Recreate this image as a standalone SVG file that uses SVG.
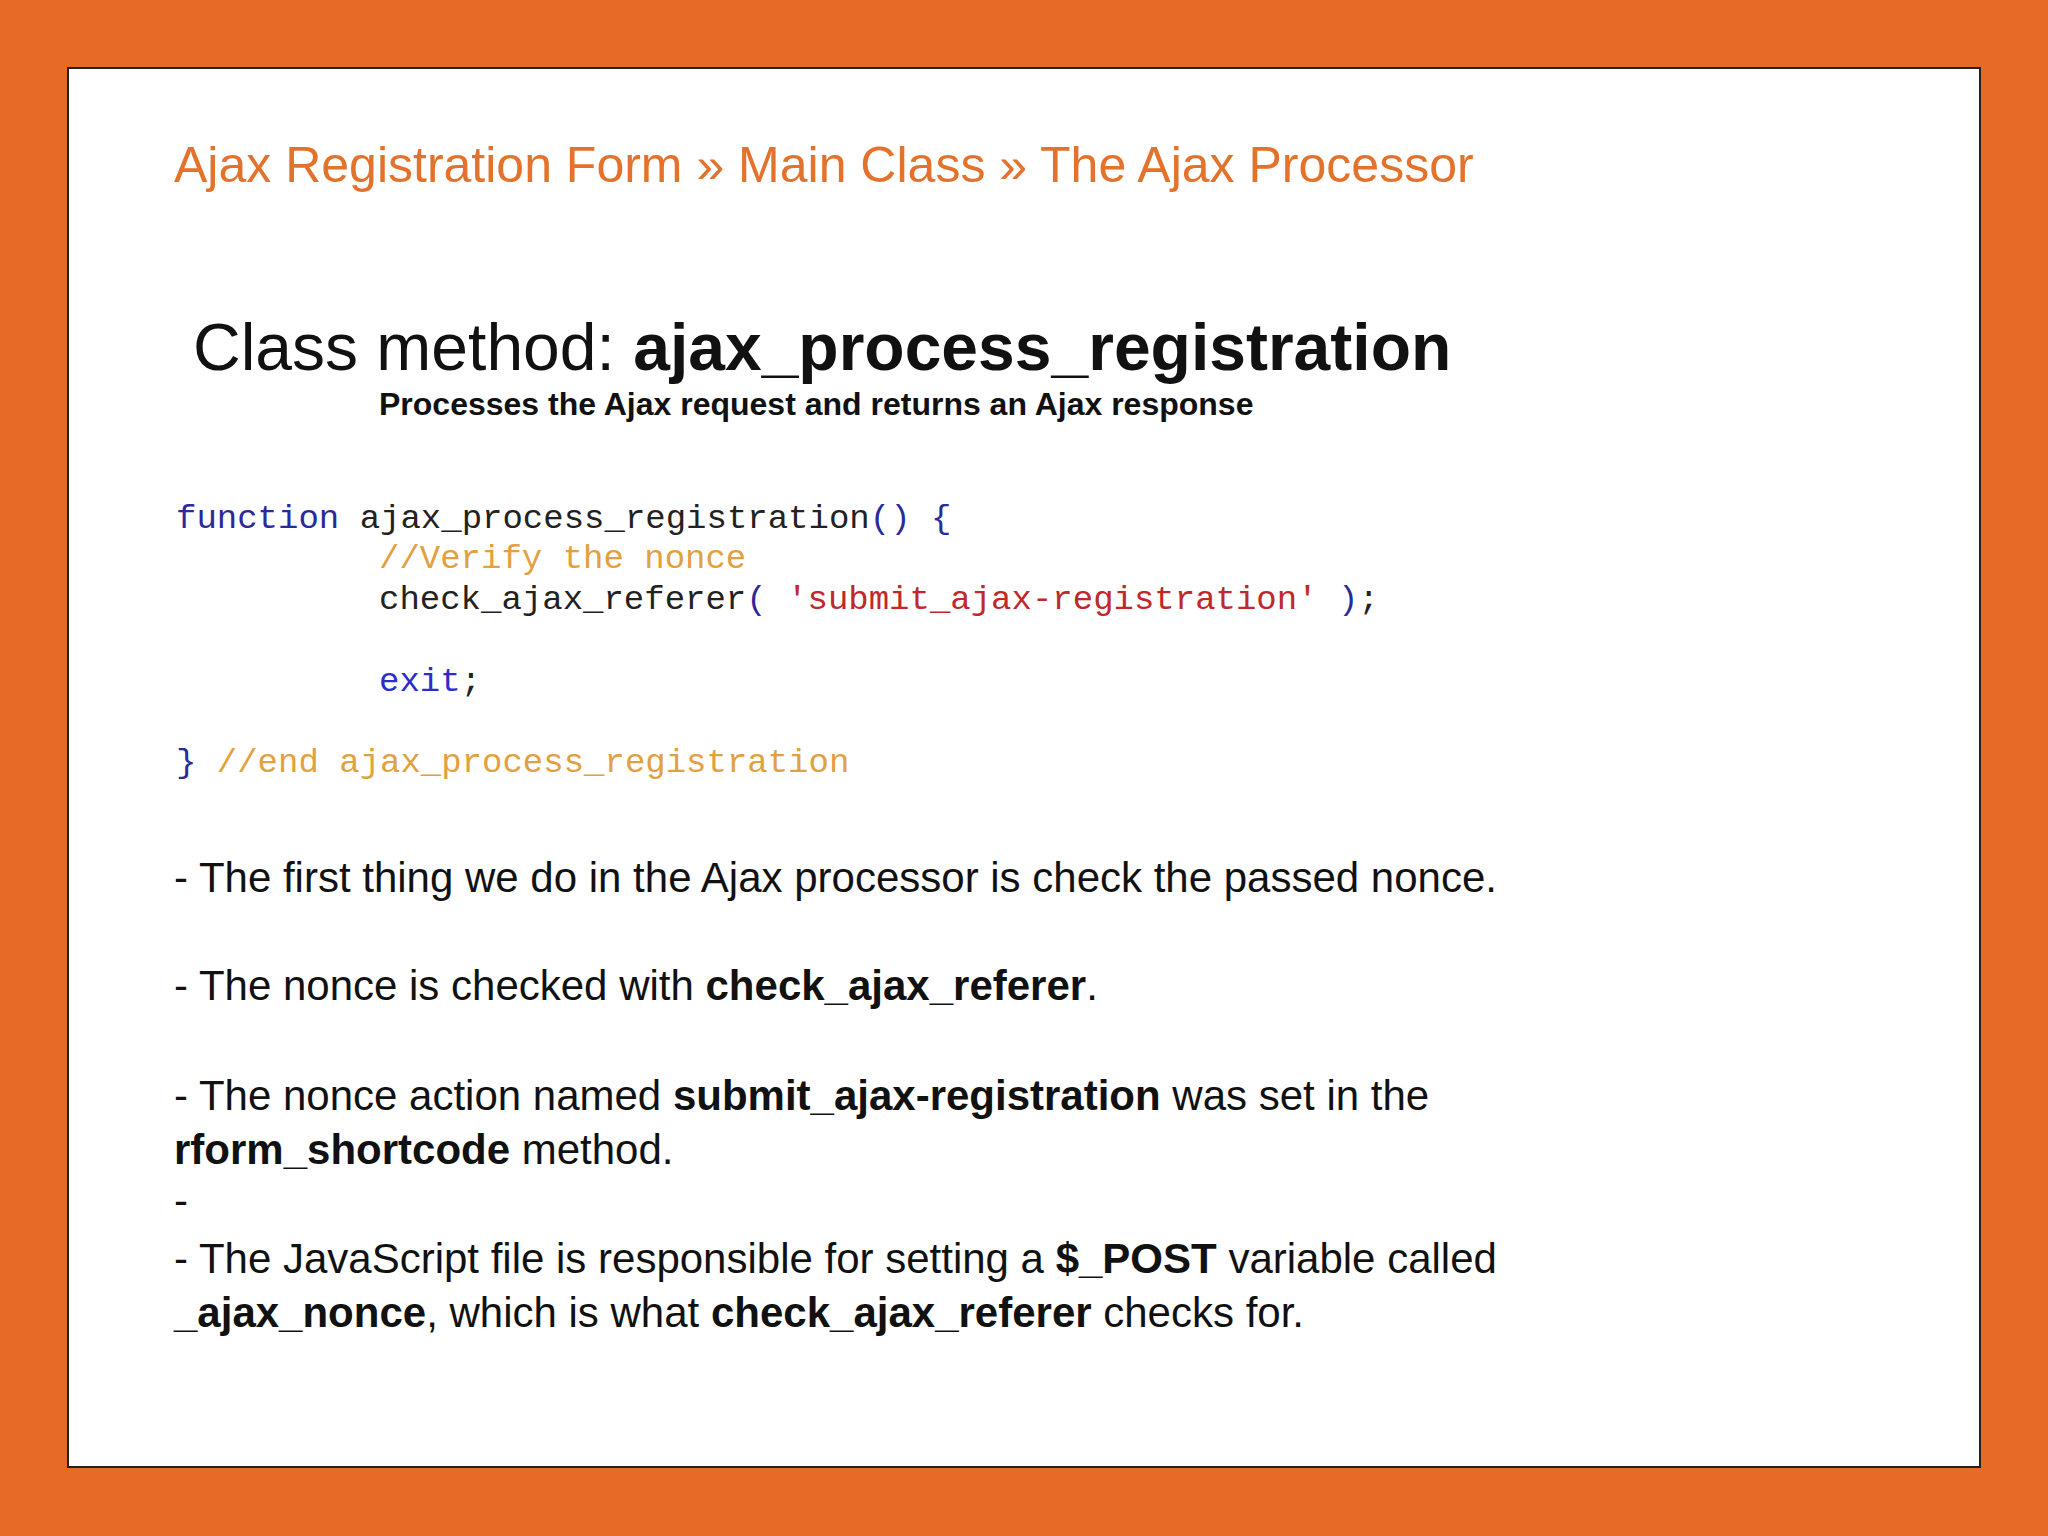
<svg xmlns="http://www.w3.org/2000/svg" width="2048" height="1536" viewBox="0 0 2048 1536">
<style>
.s{font-family:"Liberation Sans",Arial,sans-serif}
.c{font-family:"Liberation Mono","Courier New",monospace;font-size:34px;fill:#222}
.b{font-weight:bold}
.body{font-family:"Liberation Sans",Arial,sans-serif;font-size:42px;fill:#111}
.kw{fill:#2a2a9a}.cm{fill:#e3a040}.st{fill:#c0282a}.ex{fill:#2c2ccc}
</style>
<rect width="2048" height="1536" fill="#e56b26"/>
<rect x="68" y="68" width="1912" height="1399" fill="#fff" stroke="#222" stroke-width="2"/>
<g id="title"><text class="s" x="174" y="182" font-size="50" fill="#e3732c">Ajax Registration Form » Main Class » The Ajax Processor</text></g>
<g id="heading">
<text class="s" x="193" y="370" font-size="66" fill="#111">Class method: <tspan class="b">ajax_process_registration</tspan></text>
<text class="s b" x="379" y="415" font-size="32" fill="#111">Processes the Ajax request and returns an Ajax response</text>
</g>
<g id="code">
<text class="c" x="176" y="528"><tspan class="kw">function</tspan> ajax_process_registration<tspan class="kw">() {</tspan></text>
<text class="c cm" x="379" y="568">//Verify the nonce</text>
<text class="c" x="379" y="609">check_ajax_referer<tspan class="kw">(</tspan> <tspan class="st">'submit_ajax-registration'</tspan> <tspan class="kw">)</tspan>;</text>
<text class="c" x="379" y="691"><tspan class="ex">exit</tspan>;</text>
<text class="c" x="176" y="772"><tspan class="kw">}</tspan> <tspan class="cm">//end ajax_process_registration</tspan></text>
</g>
<g id="notes">
<text class="body" x="174" y="892">- The first thing we do in the Ajax processor is check the passed nonce.</text>
<text class="body" x="174" y="1000">- The nonce is checked with <tspan class="b">check_ajax_referer</tspan>.</text>
<text class="body" x="174" y="1110">- The nonce action named <tspan class="b">submit_ajax-registration</tspan> was set in the</text>
<text class="body" x="174" y="1164"><tspan class="b">rform_shortcode</tspan> method.</text>
<text class="body" x="174" y="1215">-</text>
<text class="body" x="174" y="1273">- The JavaScript file is responsible for setting a <tspan class="b">$_POST</tspan> variable called</text>
<text class="body" x="174" y="1327"><tspan class="b">_ajax_nonce</tspan>, which is what <tspan class="b">check_ajax_referer</tspan> checks for.</text>
</g>
</svg>
